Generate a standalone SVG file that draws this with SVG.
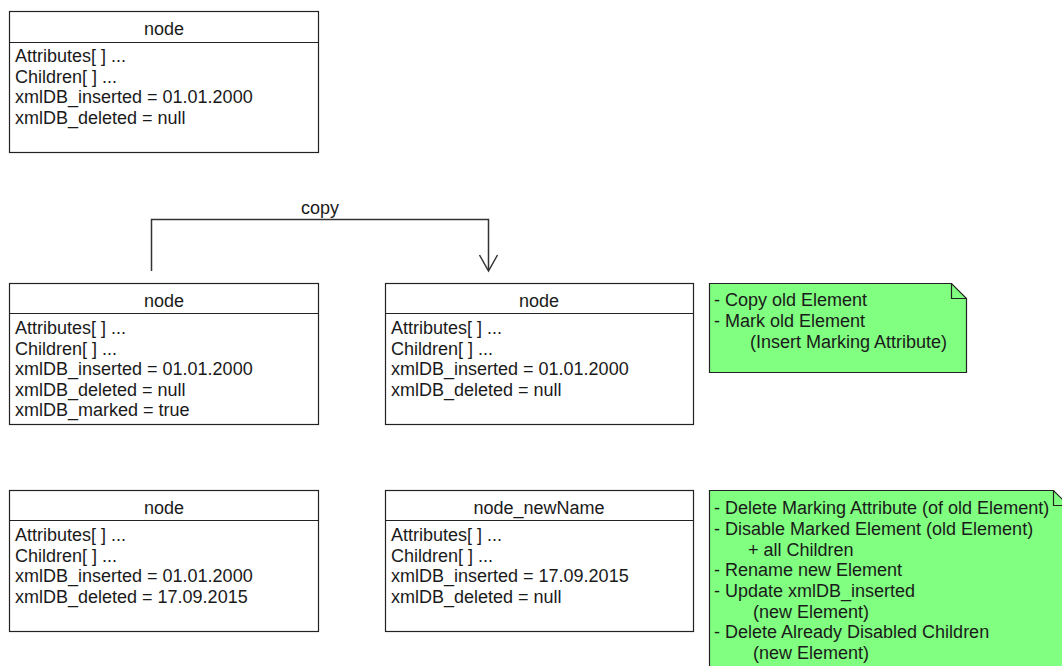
<svg xmlns="http://www.w3.org/2000/svg" width="1062" height="666" viewBox="0 0 1062 666">
  <style>
    .box { fill: #ffffff; stroke: #222222; stroke-width: 1.2; }
    .sep { stroke: #222222; stroke-width: 1.2; }
    .note { fill: #80ff80; stroke: #222222; stroke-width: 1.2; }
    .fold { fill: none; stroke: #222222; stroke-width: 1.2; }
    text { font-family: "Liberation Sans", Arial, sans-serif; font-size: 18px; fill: #1a1a1a; }
    .title { text-anchor: middle; }
    .edge { fill: none; stroke: #333333; stroke-width: 1.5; }
  </style>
  <rect width="1062" height="666" fill="#ffffff"/>

  <!-- original element -->
  <g id="node-original">
    <rect class="box" x="9.5" y="11.5" width="309" height="141"/>
    <line class="sep" x1="9.5" y1="42.5" x2="318.5" y2="42.5"/>
    <text class="title" x="164" y="35">node</text>
    <text x="15" y="62">Attributes[ ] ...</text>
    <text x="15" y="82.5">Children[ ] ...</text>
    <text x="15" y="103">xmlDB_inserted = 01.01.2000</text>
    <text x="15" y="123.5">xmlDB_deleted = null</text>
  </g>

  <!-- marked old element -->
  <g id="node-marked">
    <rect class="box" x="9.5" y="283.5" width="309" height="141"/>
    <line class="sep" x1="9.5" y1="313.5" x2="318.5" y2="313.5"/>
    <text class="title" x="164" y="307">node</text>
    <text x="15" y="334">Attributes[ ] ...</text>
    <text x="15" y="354.5">Children[ ] ...</text>
    <text x="15" y="375">xmlDB_inserted = 01.01.2000</text>
    <text x="15" y="395.5">xmlDB_deleted = null</text>
    <text x="15" y="416">xmlDB_marked = true</text>
  </g>

  <!-- copied element -->
  <g id="node-copy">
    <rect class="box" x="385.5" y="283.5" width="308" height="141"/>
    <line class="sep" x1="385.5" y1="313.5" x2="693.5" y2="313.5"/>
    <text class="title" x="539" y="307">node</text>
    <text x="391" y="334">Attributes[ ] ...</text>
    <text x="391" y="354.5">Children[ ] ...</text>
    <text x="391" y="375">xmlDB_inserted = 01.01.2000</text>
    <text x="391" y="395.5">xmlDB_deleted = null</text>
  </g>

  <!-- disabled old element -->
  <g id="node-disabled">
    <rect class="box" x="9.5" y="490.5" width="309" height="141"/>
    <line class="sep" x1="9.5" y1="520.5" x2="318.5" y2="520.5"/>
    <text class="title" x="164" y="514">node</text>
    <text x="15" y="541">Attributes[ ] ...</text>
    <text x="15" y="561.5">Children[ ] ...</text>
    <text x="15" y="582">xmlDB_inserted = 01.01.2000</text>
    <text x="15" y="602.5">xmlDB_deleted = 17.09.2015</text>
  </g>

  <!-- renamed new element -->
  <g id="node-renamed">
    <rect class="box" x="385.5" y="490.5" width="308" height="141"/>
    <line class="sep" x1="385.5" y1="520.5" x2="693.5" y2="520.5"/>
    <text class="title" x="539" y="514">node_newName</text>
    <text x="391" y="541">Attributes[ ] ...</text>
    <text x="391" y="561.5">Children[ ] ...</text>
    <text x="391" y="582">xmlDB_inserted = 17.09.2015</text>
    <text x="391" y="602.5">xmlDB_deleted = null</text>
  </g>

  <!-- note: step 1 -->
  <g id="note-step1">
    <path class="note" d="M709.5,283.5 H951.5 L966.5,298.5 V372.5 H709.5 Z"/>
    <path class="fold" d="M951.5,283.5 V298.5 H966.5"/>
    <text x="714" y="306">- Copy old Element</text>
    <text x="714" y="327">- Mark old Element</text>
    <text x="750" y="348">(Insert Marking Attribute)</text>
  </g>

  <!-- note: step 2 -->
  <g id="note-step2">
    <path class="note" d="M709.5,490.5 H1053.5 L1068.5,505.5 V680 H709.5 Z"/>
    <path class="fold" d="M1053.5,490.5 V505.5 H1068.5"/>
    <text x="714" y="514">- Delete Marking Attribute (of old Element)</text>
    <text x="714" y="535">- Disable Marked Element (old Element)</text>
    <text x="748" y="555.5">+ all Children</text>
    <text x="714" y="576">- Rename new Element</text>
    <text x="714" y="597">- Update xmlDB_inserted</text>
    <text x="753" y="617.5">(new Element)</text>
    <text x="714" y="638">- Delete Already Disabled Children</text>
    <text x="753" y="659">(new Element)</text>
  </g>

  <!-- connectors -->
  <g id="connectors">
    <path class="edge" d="M151.5,271 V219.5 H488.5 V270"/>
    <path class="edge" d="M479.5,255 L488.5,271 L497.5,255"/>
    <text class="title" x="320" y="214">copy</text>
  </g>
</svg>
